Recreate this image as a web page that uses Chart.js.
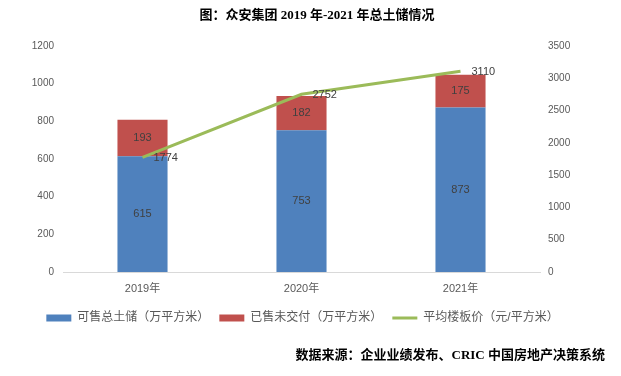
<!DOCTYPE html>
<html>
<head>
<meta charset="utf-8">
<script src="https://cdn.jsdelivr.net/npm/chart.js@4/dist/chart.umd.min.js"></script>
<style>
  html, body { margin: 0; padding: 0; background: #fff; }
  #wrap { width: 621px; height: 376px; position: relative; }
</style>
</head>
<body>
<div id="wrap"><canvas id="chart" width="621" height="376"></canvas></div>
<script>
// data
const years = ["2019年", "2020年", "2021年"];
const saleable = [615, 753, 873];      // 可售总土储
const soldUndelivered = [193, 182, 175]; // 已售未交付
const floorPrice = [1774, 2752, 3110];   // 平均楼板价
const leftTicks = [0, 200, 400, 600, 800, 1000, 1200];
const rightTicks = [0, 500, 1000, 1500, 2000, 2500, 3000, 3500];

const titleText = "图：众安集团 2019 年-2021 年总土储情况";
const sourceText = "数据来源：企业业绩发布、CRIC 中国房地产决策系统";

const FONT = "'Liberation Sans', 'Noto Sans CJK SC', sans-serif";
const SERIF = "'Liberation Serif', 'Noto Sans CJK SC', serif";

// value labels + title + source, drawn on the canvas
const labelPlugin = {
  id: "labels",
  afterLayout(chart) {
    // legend sits a bit left of the canvas centre in the original
    chart.legend.left -= 8;
    chart.legend.right -= 8;
  },
  afterDatasetsDraw(chart) {
    const ctx = chart.ctx;
    ctx.save();
    ctx.font = "11px " + FONT;
    ctx.fillStyle = "#404040";
    ctx.textBaseline = "middle";
    chart.data.datasets.forEach((ds, i) => {
      const meta = chart.getDatasetMeta(i);
      meta.data.forEach((el, j) => {
        const v = ds.data[j];
        if (ds.type === "line") {
          ctx.textAlign = "left";
          ctx.fillText(v, el.x + 11, el.y + 1);
        } else {
          ctx.textAlign = "center";
          ctx.fillText(v, el.x, (el.y + el.base) / 2);
        }
      });
    });
    ctx.restore();
  },
  afterDraw(chart) {
    const ctx = chart.ctx;
    ctx.save();
    ctx.fillStyle = "#000";
    ctx.textBaseline = "middle";
    ctx.font = "bold 13px " + SERIF;
    ctx.textAlign = "center";
    ctx.fillText(titleText, 317, 16);
    ctx.textAlign = "right";
    ctx.fillText(sourceText, 605, 356);
    ctx.restore();
  }
};

new Chart(document.getElementById("chart"), {
  data: {
    labels: years,
    datasets: [
      {
        type: "bar",
        label: "可售总土储（万平方米）",
        data: saleable,
        backgroundColor: "#4F81BD",
        pointStyle: "rect",
        categoryPercentage: 1,
        barPercentage: 0.315,
        order: 1
      },
      {
        type: "bar",
        label: "已售未交付（万平方米）",
        data: soldUndelivered,
        backgroundColor: "#C0504D",
        pointStyle: "rect",
        categoryPercentage: 1,
        barPercentage: 0.315,
        order: 1
      },
      {
        type: "line",
        label: "平均楼板价（元/平方米）",
        data: floorPrice,
        yAxisID: "y1",
        borderColor: "#9BBB59",
        backgroundColor: "#9BBB59",
        borderWidth: 3,
        pointRadius: 0,
        pointStyle: "line",
        order: 0
      }
    ]
  },
  options: {
    responsive: false,
    animation: false,
    layout: { padding: { top: 46, bottom: 42, left: 0, right: 0 } },
    plugins: {
      title: { display: false },
      tooltip: { enabled: false },
      legend: {
        position: "bottom",
        labels: {
          usePointStyle: true,
          pointStyleWidth: 25,
          boxHeight: 7,
          padding: 10,
          color: "#595959",
          font: { size: 12, family: FONT },
          sort: (a, b) => a.datasetIndex - b.datasetIndex
        }
      }
    },
    scales: {
      x: {
        stacked: true,
        grid: { display: false, drawTicks: false },
        border: { display: true, color: "#D9D9D9" },
        ticks: { color: "#595959", font: { size: 11, family: FONT }, padding: 10 },
        afterFit(s) { s.height = 30; }
      },
      y: {
        stacked: true,
        position: "left",
        min: 0, max: 1200,
        afterBuildTicks(s) { s.ticks = leftTicks.map(v => ({ value: v })); },
        grid: { display: false, drawTicks: false },
        border: { display: false },
        ticks: { color: "#595959", font: { size: 10, family: FONT }, padding: 9, callback: v => String(v) },
        afterFit(s) { s.width = 63; }
      },
      y1: {
        position: "right",
        min: 0, max: 3500,
        afterBuildTicks(s) { s.ticks = rightTicks.map(v => ({ value: v })); },
        grid: { display: false, drawTicks: false },
        border: { display: false },
        ticks: { color: "#595959", font: { size: 10, family: FONT }, padding: 8, callback: v => String(v) },
        afterFit(s) { s.width = 81; }
      }
    }
  },
  plugins: [labelPlugin]
});
</script>
</body>
</html>
